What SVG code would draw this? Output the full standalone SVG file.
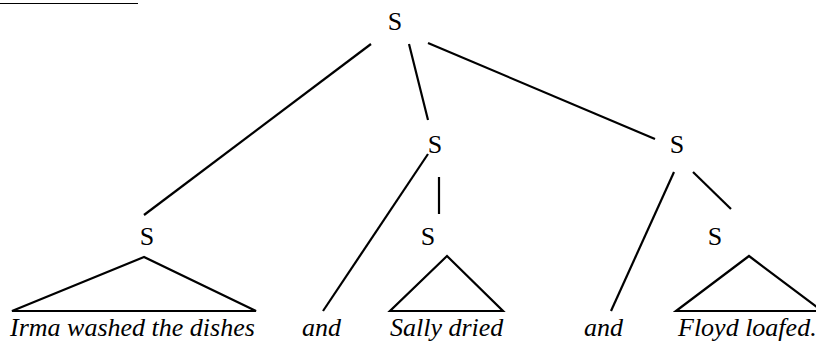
<svg xmlns="http://www.w3.org/2000/svg" width="816" height="343" viewBox="0 0 816 343">
  <style>
    text { font-family: 'Liberation Serif', 'Times New Roman', Times, 'DejaVu Serif', serif; font-size: 26px; fill: #000; }
    .lbl { text-anchor: middle; }
    .leaf { font-style: italic; }
    .edge { stroke: #000; stroke-width: 2.2; fill: none; }
    .tri { stroke: #000; stroke-width: 2.2; fill: none; stroke-linejoin: miter; stroke-linecap: round; }
  </style>
  <rect width="816" height="343" fill="#fff"/>

  <!-- heading rule at the top edge -->
  <line x1="0" y1="3.5" x2="138" y2="3.5" stroke="#000" stroke-width="1.2"/>

  <!-- connectors -->
  <g id="edges">
    <line class="edge" x1="371" y1="44" x2="144" y2="215"/>
    <line class="edge" x1="409" y1="44" x2="428" y2="120"/>
    <line class="edge" x1="428" y1="43" x2="655" y2="139"/>
    <line class="edge" x1="428" y1="154" x2="323" y2="311"/>
    <line class="edge" x1="439" y1="177" x2="439" y2="214"/>
    <line class="edge" x1="674" y1="172" x2="611" y2="311"/>
    <line class="edge" x1="693" y1="172" x2="731" y2="209"/>
  </g>

  <!-- nodes -->
  <g id="s-root"><text class="lbl" x="395" y="30" font-family="Liberation Serif, serif">S</text></g>
  <g id="s-mid"><text class="lbl" x="435" y="153" font-family="Liberation Serif, serif">S</text></g>
  <g id="s-right"><text class="lbl" x="677" y="153" font-family="Liberation Serif, serif">S</text></g>

  <g id="s-irma">
    <text class="lbl" x="147" y="245" font-family="Liberation Serif, serif">S</text>
    <polygon class="tri" points="144,257 12,311 256,311"/>
    <text class="leaf" x="10" y="336" font-family="Liberation Serif, serif">Irma washed the dishes</text>
  </g>

  <g id="and-1"><text class="leaf" x="302" y="336" font-family="Liberation Serif, serif">and</text></g>

  <g id="s-sally">
    <text class="lbl" x="428" y="245" font-family="Liberation Serif, serif">S</text>
    <polygon class="tri" points="447,256 390,311 503,311"/>
    <text class="leaf" x="390" y="336" font-family="Liberation Serif, serif">Sally dried</text>
  </g>

  <g id="and-2"><text class="leaf" x="584" y="336" font-family="Liberation Serif, serif">and</text></g>

  <g id="s-floyd">
    <text class="lbl" x="715" y="245" font-family="Liberation Serif, serif">S</text>
    <polygon class="tri" points="749,256 676,311 822,311"/>
    <text class="leaf" x="678" y="336" font-family="Liberation Serif, serif">Floyd loafed.</text>
  </g>
</svg>
